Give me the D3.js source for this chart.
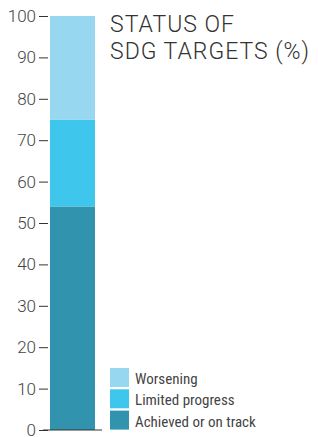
<!DOCTYPE html>
<html>
<head>
<meta charset="utf-8">
<script src="https://cdn.jsdelivr.net/npm/d3@7"></script>
<style>
  body { margin: 0; background: #fff; }
</style>
</head>
<body>
<div id="chart"></div>
<script>
// data
var categories = ["Achieved or on track", "Limited progress", "Worsening"];
var values = [54, 21, 25];
var colors = ["#3193ae", "#3ec6ec", "#97d8f0"];
var yTicks = [0, 10, 20, 30, 40, 50, 60, 70, 80, 90, 100];
var titleLines = ["STATUS OF", "SDG TARGETS (%)"];

var width = 318, height = 437;
var svg = d3.select("#chart").append("svg")
    .attr("width", width)
    .attr("height", height);

var y = d3.scaleLinear().domain([0, 100]).range([430, 16]);

// stacked bar
var stack = [];
var acc = 0;
values.forEach(function (v, i) {
    stack.push({ cat: categories[i], y0: acc, y1: acc + v, color: colors[i] });
    acc += v;
});

svg.selectAll("rect.bar")
    .data(stack)
    .enter().append("rect")
    .attr("class", "bar")
    .attr("x", 50)
    .attr("width", 45)
    .attr("y", function (d) { return y(d.y1); })
    .attr("height", function (d) { return y(d.y0) - y(d.y1); })
    .attr("fill", function (d) { return d.color; });

// y axis
var axis = svg.append("g")
    .attr("transform", "translate(48,0)")
    .call(d3.axisLeft(y).tickValues(yTicks).tickSize(9).tickPadding(3));
axis.select(".domain").remove();
axis.selectAll(".tick line").attr("stroke", "#333");
axis.selectAll(".tick text")
    .attr("fill", "#444")
    .style("font-family", "Roboto, 'Liberation Sans', sans-serif")
    .style("font-weight", "300")
    .style("font-size", "17px");

// baseline
svg.append("line")
    .attr("x1", 43).attr("x2", 102)
    .attr("y1", y(0)).attr("y2", y(0))
    .attr("stroke", "#333").attr("stroke-width", 1.2);

// title
svg.append("text")
    .attr("x", 110)
    .attr("y", 32)
    .attr("fill", "#333")
    .style("font-family", "Roboto, 'Liberation Sans', sans-serif")
    .style("font-weight", "300")
    .style("font-size", "23px")
    .style("letter-spacing", "1px")
    .selectAll("tspan")
    .data(titleLines)
    .enter().append("tspan")
    .attr("x", 110)
    .attr("dy", function (d, i) { return i === 0 ? 0 : 27; })
    .text(function (d) { return d; });

// legend (top to bottom: worsening, limited, achieved)
var legendData = stack.slice().reverse();
var legend = svg.selectAll("g.legend")
    .data(legendData)
    .enter().append("g")
    .attr("class", "legend")
    .attr("transform", function (d, i) { return "translate(110," + (368 + i * 21.3) + ")"; });

legend.append("rect")
    .attr("width", 19)
    .attr("height", 19)
    .attr("fill", function (d) { return d.color; });

legend.append("text")
    .attr("x", 25)
    .attr("y", 16)
    .attr("fill", "#444")
    .style("font-family", "'Liberation Sans Narrow', 'Roboto Condensed', sans-serif")
    .style("font-size", "15px")
    .text(function (d) { return d.cat; });
</script>
</body>
</html>
